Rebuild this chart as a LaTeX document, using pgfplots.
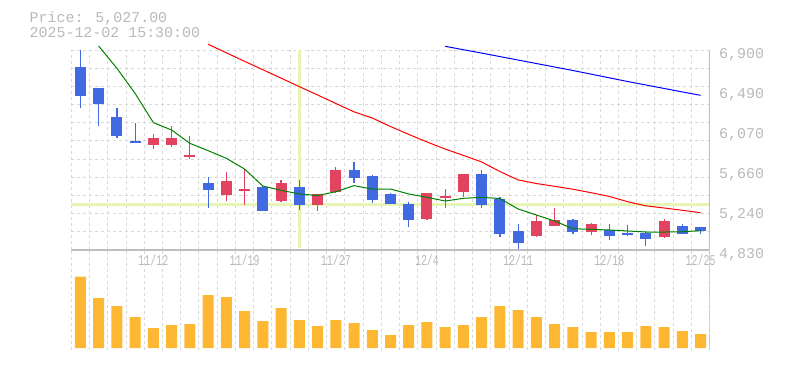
\documentclass[border=0pt]{standalone}
\usepackage{fontspec}
\setmainfont{Liberation Mono}
\newfontfamily\narrowmono[FakeStretch=0.667]{Liberation Mono}
\usepackage{pgfplots}
\pgfplotsset{compat=1.18}
\usepackage{pgfplotstable}

\definecolor{txtgray}{RGB}{185,185,185}
\definecolor{gridgray}{RGB}{216,216,216}
\definecolor{axgray}{RGB}{190,190,190}
\definecolor{candleblue}{RGB}{65,105,225}
\definecolor{candlered}{RGB}{226,67,96}
\definecolor{volorange}{RGB}{253,183,51}
\definecolor{crosshair}{RGB}{230,245,180}
\definecolor{magreen}{RGB}{0,128,0}
\definecolor{mared}{RGB}{255,0,0}
\definecolor{mablue}{RGB}{0,0,255}

% falling candles (close < open)
\pgfplotstableread{
i open high low close
0 6724 6900 6303 6424
1 6504 6504 6117 6341
2 6203 6300 5992 6013
3 5955 6144 5935 5941
7 5523 5586 5268 5454
10 5482 5503 5231 5237
12 5482 5555 5247 5299
15 5658 5741 5527 5578
16 5596 5606 5320 5348
17 5411 5420 5306 5306
18 5306 5327 5071 5144
22 5617 5658 5268 5299
23 5355 5375 4968 4999
24 5027 5099 4837 4903
27 5141 5154 4996 5020
29 5037 5096 4937 4978
30 5010 5086 4975 4988
31 5010 5027 4875 4944
33 5078 5099 4993 4999
34 5068 5068 4993 5027
}\downcandles

% rising candles (close > open)
\pgfplotstableread{
i open high low close
4 5920 6031 5872 5987
5 5920 6113 5893 5987
6 5792 6010 5775 5813
8 5402 5634 5340 5544
9 5441 5668 5299 5461
11 5340 5555 5330 5523
13 5299 5411 5237 5411
14 5433 5692 5417 5658
19 5151 5423 5144 5423
20 5368 5461 5265 5389
21 5433 5617 5379 5617
25 4978 5192 4962 5130
26 5082 5262 5082 5141
28 5013 5110 4982 5099
32 4965 5148 4957 5130
}\upcandles

\pgfplotstableread{
i ma
1 6941
2 6711
3 6450
4 6148
5 6072
6 5934
7 5858
8 5779
9 5668
10 5492
11 5448
12 5410
13 5394
14 5433
15 5496
16 5461
17 5461
18 5410
19 5375
20 5337
21 5365
22 5375
23 5363
24 5254
25 5192
26 5130
27 5050
28 5044
29 5037
30 5027
31 5016
32 5016
33 5019
34 5030
}\mashort

\pgfplotstableread{
i ma
7 6959
8 6871
9 6783
10 6696
11 6609
12 6521
13 6435
14 6347
15 6260
16 6196
17 6108
18 6027
19 5948
20 5875
21 5809
22 5741
23 5642
24 5555
25 5518
26 5489
27 5459
28 5423
29 5384
30 5330
31 5287
32 5265
33 5241
34 5216
}\mamid

\pgfplotstableread{
i ma
20 6938
21 6903
22 6868
23 6832
24 6796
25 6760
26 6724
27 6688
28 6650
29 6612
30 6574
31 6538
32 6502
33 6466
34 6431
}\malong

\pgfplotstableread{
i vol
0 71.3
1 50
2 42
3 31
4 20
5 23
6 24
7 53
8 51
9 37
10 27
11 40
12 28
13 22
14 28
15 25
16 18
17 13
18 23
19 26
20 21
21 23
22 31
23 42
24 38
25 31
26 24
27 21
28 16
29 16
30 16
31 22
32 21
33 17
34 14
}\volume

\pgfplotsset{
  chartbase/.style={
    scale only axis, width=638.4bp,
    xmin=-0.5, xmax=34.5,
    axis line style={draw=none},
    tick style={draw=none},
    xtick={4,9,14,19,24,29,34},
    minor xtick={-0.5,0.5,...,34.5},
    xminorgrids=true,
    minor grid style={gridgray, line width=1bp, dash pattern=on 3bp off 3bp},
    major grid style={draw=none},
  }
}

\begin{document}
\begin{tikzpicture}
\useasboundingbox (0,0) rectangle (785bp,370bp);
\node[anchor=base west, text=txtgray, font=\fontsize{15}{18}\selectfont, inner sep=0] at (29.5bp,347.3bp) {Price: 5,027.00};
\node[anchor=base west, text=txtgray, font=\fontsize{15}{18}\selectfont, inner sep=0] at (29.5bp,332.3bp) {2025-12-02 15:30:00};

\begin{axis}[chartbase, at={(71.3bp,20bp)}, anchor=south west, height=100bp,
  ymin=-2, ymax=98, xticklabels={}, ytick=\empty]
\addplot[ybar, bar width=11bp, bar shift=0pt, fill=volorange, draw=none] table[x=i, y=vol] {\volume};
\draw[axgray, line width=1bp] (rel axis cs:0,1) -- (rel axis cs:1,1) -- (rel axis cs:1,0) -- (rel axis cs:0,0);
\end{axis}

\begin{axis}[chartbase, at={(71.3bp,120bp)}, anchor=south west, height=200bp,
  ymin=4830, ymax=6900, clip=false,
  xticklabels={11/12,11/19,11/27,12/4,12/11,12/18,12/25},
  xticklabel style={font=\narrowmono\fontsize{15}{18}\selectfont, text=txtgray, anchor=base, yshift=-16bp},
  ytick={4830,5244,5658,6072,6486,6900},
  yticklabels={{4,830},{5,240},{5,660},{6,070},{6,490},{6,900}},
  yticklabel pos=right,
  yticklabel style={font=\fontsize{15}{18}\selectfont, text=txtgray, anchor=west, xshift=6bp, yshift=-5bp},
  minor ytick={4830,5018.18,5206.36,5394.55,5582.73,5770.91,5959.09,6147.27,6335.45,6523.64,6711.82,6900},
  yminorgrids=true]
\draw[crosshair, line width=3bp] (axis cs:-0.5,5306) -- (axis cs:34.5,5306);
\draw[crosshair, line width=3.3bp] (axis cs:12,6900) -- (axis cs:12,4850);
\draw[axgray, line width=1bp] (rel axis cs:0,0) -- (rel axis cs:1,0) -- (rel axis cs:1,1);
\addplot[candleblue, line width=1.2bp, quiver={u=0, v=\thisrow{high}-\thisrow{low}}] table[x=i, y=low] {\downcandles};
\addplot[candleblue, line width=11bp, quiver={u=0, v=\thisrow{close}-\thisrow{open}}] table[x=i, y=open] {\downcandles};
\addplot[candlered, line width=1.2bp, quiver={u=0, v=\thisrow{high}-\thisrow{low}}] table[x=i, y=low] {\upcandles};
\addplot[candlered, line width=11bp, quiver={u=0, v=\thisrow{close}-\thisrow{open}}] table[x=i, y=open] {\upcandles};
\addplot[magreen, line width=1bp] table[x=i, y=ma] {\mashort};
\addplot[mared, line width=1bp] table[x=i, y=ma] {\mamid};
\addplot[mablue, line width=1bp] table[x=i, y=ma] {\malong};
\end{axis}
\end{tikzpicture}
\end{document}
